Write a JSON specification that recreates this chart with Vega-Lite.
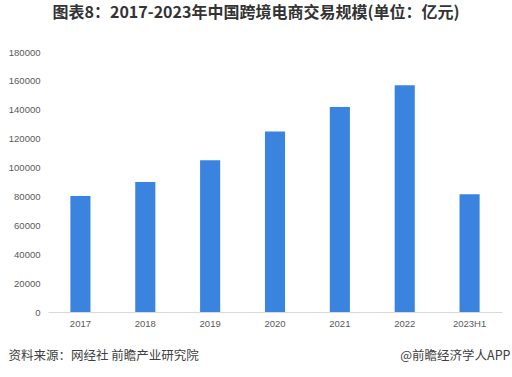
{
  "$schema": "https://vega.github.io/schema/vega-lite/v6.json",
  "width": 454,
  "height": 260,
  "autosize": {"type": "none"},
  "padding": {"left": 48, "top": 52, "right": 10, "bottom": 65},
  "background": "white",
  "title": {
    "text": "图表8：2017-2023年中国跨境电商交易规模(单位：亿元)",
    "font": "Noto Sans CJK SC",
    "fontSize": 16,
    "fontWeight": "bold",
    "color": "#333333",
    "anchor": "middle",
    "dx": -19,
    "offset": 26
  },
  "data": {
    "values": [
      {"year": "2017", "value": 80300},
      {"year": "2018", "value": 90000},
      {"year": "2019", "value": 105000},
      {"year": "2020", "value": 125000},
      {"year": "2021", "value": 142000},
      {"year": "2022", "value": 157000},
      {"year": "2023H1", "value": 81500}
    ]
  },
  "mark": {"type": "bar", "color": "#3A84E0"},
  "encoding": {
    "x": {
      "field": "year",
      "type": "nominal",
      "sort": null,
      "scale": {"paddingInner": 0.69, "paddingOuter": 0.345},
      "axis": {
        "title": "@前瞻经济学人APP",
        "titleFont": "Noto Sans CJK SC",
        "titleFontSize": 12.5,
        "titleFontWeight": "normal",
        "titleColor": "#404040",
        "titleAnchor": "end",
        "titleAlign": "right",
        "titleX": 462,
        "titleY": 43,
        "titleBaseline": "middle",
        "labelAngle": 0,
        "labelFont": "Liberation Sans",
        "labelFontSize": 9.5,
        "labelColor": "#595959",
        "labelPadding": 6,
        "ticks": false,
        "domainColor": "#D9D9D9",
        "domainWidth": 1
      }
    },
    "y": {
      "field": "value",
      "type": "quantitative",
      "scale": {"domain": [0, 180000]},
      "axis": {
        "values": [0, 20000, 40000, 60000, 80000, 100000, 120000, 140000, 160000, 180000],
        "format": "d",
        "grid": false,
        "domain": false,
        "ticks": false,
        "labelFont": "Liberation Sans",
        "labelFontSize": 9.5,
        "labelColor": "#595959",
        "labelPadding": 8,
        "title": "资料来源：网经社 前瞻产业研究院",
        "titleFont": "Noto Sans CJK SC",
        "titleFontSize": 12.5,
        "titleFontWeight": "normal",
        "titleColor": "#404040",
        "titleAngle": 0,
        "titleAlign": "left",
        "titleBaseline": "middle",
        "titleX": -40,
        "titleY": 303
      }
    }
  },
  "config": {"view": {"stroke": null}}
}
